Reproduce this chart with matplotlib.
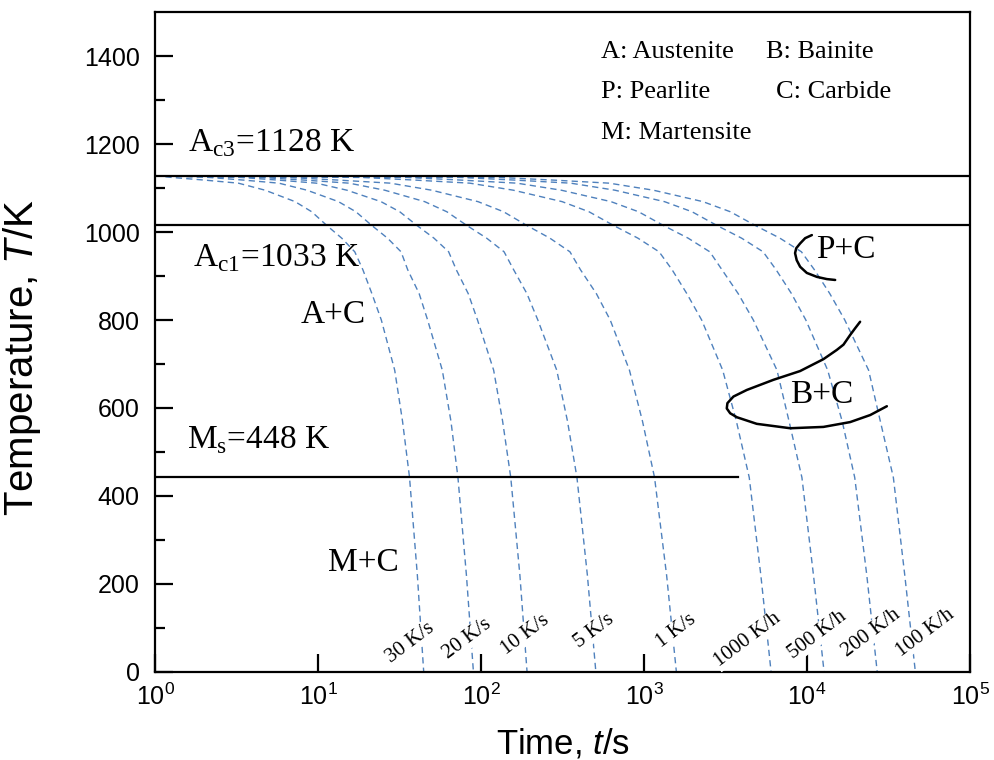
import matplotlib
matplotlib.use("Agg")
import math
import numpy as np
import matplotlib.pyplot as plt
from matplotlib.ticker import FixedLocator, FuncFormatter, NullLocator

plt.rcParams['mathtext.fontset'] = 'custom'
plt.rcParams['mathtext.rm'] = 'Liberation Serif'
plt.rcParams['mathtext.sf'] = 'Liberation Sans'
plt.rcParams['mathtext.it'] = 'Liberation Sans:italic'

# ---------------- data ----------------
# temperatures (K) at which each cooling curve was read
T_levels = [1128, 1124, 1118, 1111, 1095, 1069, 1046, 1015, 986, 955,
            914, 860, 800, 686, 570, 442, 220, 0]

# log10(time / s) of each cooling curve at the temperatures above
lt_30Ks = [0, 0.103, 0.303, 0.511, 0.675, 0.859, 0.961, 1.053, 1.145, 1.225,
           1.275, 1.330, 1.388, 1.470, 1.518, 1.561, 1.609, 1.648]
lt_20Ks = [0, 0.332, 0.542, 0.760, 0.932, 1.125, 1.232, 1.329, 1.426, 1.509,
           1.550, 1.620, 1.672, 1.762, 1.815, 1.858, 1.910, 1.953]
lt_10Ks = [0, 0.527, 0.754, 0.990, 1.177, 1.386, 1.501, 1.606, 1.711, 1.801,
           1.848, 1.921, 1.978, 2.077, 2.132, 2.182, 2.238, 2.282]
lt_5Ks = [0, 0.648, 0.914, 1.191, 1.409, 1.654, 1.790, 1.912, 2.034, 2.141,
          2.200, 2.281, 2.348, 2.464, 2.530, 2.588, 2.652, 2.704]
lt_1Ks = [0, 0.814, 1.123, 1.444, 1.697, 1.981, 2.138, 2.280, 2.422, 2.545,
          2.610, 2.707, 2.792, 2.910, 2.990, 3.064, 3.138, 3.198]
lt_1000Kh = [0, 1.268, 1.593, 1.931, 2.198, 2.497, 2.662, 2.812, 2.962, 3.092,
             3.172, 3.262, 3.353, 3.482, 3.566, 3.645, 3.716, 3.779]
lt_500Kh = [0, 1.544, 1.875, 2.220, 2.492, 2.797, 2.966, 3.118, 3.270, 3.403,
            3.478, 3.577, 3.670, 3.815, 3.889, 3.968, 4.039, 4.104]
lt_200Kh = [0, 1.875, 2.205, 2.550, 2.821, 3.125, 3.294, 3.446, 3.598, 3.730,
            3.810, 3.904, 3.992, 4.126, 4.215, 4.292, 4.366, 4.430]
lt_100Kh = [0, 2.112, 2.442, 2.786, 3.057, 3.361, 3.529, 3.681, 3.833, 3.965,
            4.045, 4.139, 4.231, 4.377, 4.449, 4.529, 4.599, 4.664]

curves_lt = [lt_30Ks, lt_20Ks, lt_10Ks, lt_5Ks, lt_1Ks,
             lt_1000Kh, lt_500Kh, lt_200Kh, lt_100Kh]

rate_labels = ["30 K/s", "20 K/s", "10 K/s", "5 K/s", "1 K/s",
               "1000 K/h", "500 K/h", "200 K/h", "100 K/h"]
label_t = [36.8, 82.6, 186, 493, 1578, 4290, 11640, 24770, 52800]
label_T = [67, 76, 85, 94, 94, 72, 85, 89, 89]

# Pearlite nose (P+C), log10(t/s) and T/K
pc_lt = [4.029, 3.988, 3.957, 3.933, 3.926, 3.936, 3.957, 3.998, 4.060, 4.121, 4.172]
pc_T = [993, 986, 974, 963, 952, 936, 921, 907, 898, 893, 891]

# Bainite region (B+C), log10(t/s) and T/K
bc_lt = [4.325, 4.294, 4.264, 4.223, 4.182, 4.100, 3.957, 3.793, 3.630, 3.548,
         3.511, 3.507, 3.528, 3.569, 3.691, 3.896, 4.100, 4.264, 4.387, 4.489]
bc_T = [796, 781, 766, 744, 732, 711, 684, 664, 641, 626,
        611, 599, 588, 579, 564, 554, 557, 568, 584, 604]

Ac3_T = 1128
Ac1_T = 1015
Ms_T = 443
Ms_tmax = 3775

# ---------------- figure ----------------
fig = plt.figure(figsize=(9.94, 7.6), dpi=100)
ax = fig.add_axes([0.156, 0.1158, 0.820, 0.8684])

blue = '#4f81bd'
for lt in curves_lt:
    ax.plot(np.power(10.0, lt), T_levels, color=blue, lw=1.0,
            linestyle=(0, (4.5, 3)), zorder=2)

ax.axhline(Ac3_T, color='black', lw=1.6, zorder=3)
ax.axhline(Ac1_T, color='black', lw=1.6, zorder=3)
ax.plot([1, Ms_tmax], [Ms_T, Ms_T], color='black', lw=1.6, zorder=3)

ax.plot(np.power(10.0, pc_lt), pc_T, color='black', lw=1.8, zorder=3,
        solid_capstyle='round', solid_joinstyle='round')
ax.plot(np.power(10.0, bc_lt), bc_T, color='black', lw=1.8, zorder=3,
        solid_capstyle='round', solid_joinstyle='round')

for lab, x, y in zip(rate_labels, label_t, label_T):
    ax.text(x, y, lab, rotation=37, ha='center', va='center',
            family='Liberation Serif', fontsize=15, zorder=4,
            bbox=dict(facecolor='white', edgecolor='none', pad=0.5))

big = dict(family='Liberation Serif', fontsize=24, color='black')
ax.text(1.594, 1202, r"A$_{\rm c3}$=1128 K", ha='left', va='center', **big)
ax.text(1.71, 941, r"A$_{\rm c1}$=1033 K", ha='left', va='center', **big)
ax.text(7.76, 811, "A+C", ha='left', va='center', **big)
ax.text(1.57, 527, r"M$_{\rm s}$=448 K", ha='left', va='center', **big)
ax.text(11.5, 248, "M+C", ha='left', va='center', **big)
ax.text(11350, 959, "P+C", ha='left', va='center', **big)
ax.text(7870, 630, "B+C", ha='left', va='center', **big)

leg = dict(family='Liberation Serif', fontsize=19, color='black')
ax.text(545, 1410, "A: Austenite", ha='left', va='center', **leg)
ax.text(5600, 1410, "B: Bainite", ha='left', va='center', **leg)
ax.text(545, 1318, "P: Pearlite", ha='left', va='center', **leg)
ax.text(6450, 1318, "C: Carbide", ha='left', va='center', **leg)
ax.text(545, 1225, "M: Martensite", ha='left', va='center', **leg)

ax.set_xscale('log')
ax.set_xlim(1, 1e5)
ax.set_ylim(0, 1500)

ax.xaxis.set_major_locator(FixedLocator([1, 10, 100, 1000, 10000, 100000]))
ax.xaxis.set_minor_locator(NullLocator())
ax.xaxis.set_major_formatter(FuncFormatter(
    lambda v, p: r"$\mathsf{10^{%d}}$" % round(math.log10(v))))
ax.yaxis.set_major_locator(FixedLocator([0, 200, 400, 600, 800, 1000, 1200, 1400]))
ax.yaxis.set_minor_locator(FixedLocator([100, 300, 500, 700, 900, 1100, 1300]))

ax.tick_params(which='major', direction='in', length=13, width=1.6,
               labelsize=18, pad=11)
ax.tick_params(axis='x', which='major', pad=8)
ax.tick_params(which='minor', direction='in', length=7, width=1.6)
for lab in ax.get_xticklabels() + ax.get_yticklabels():
    lab.set_family('Liberation Sans')
for s in ax.spines.values():
    s.set_linewidth(1.6)

ax.set_xlabel(r"Time, $\it{t}$/s", family='Liberation Sans', fontsize=25, labelpad=12)
ax.set_ylabel(r"Temperature, $\it{T}$/K", family='Liberation Sans', fontsize=29)
ax.yaxis.set_label_coords(-0.137, 0.476)

fig.savefig("out.png", dpi=100)
